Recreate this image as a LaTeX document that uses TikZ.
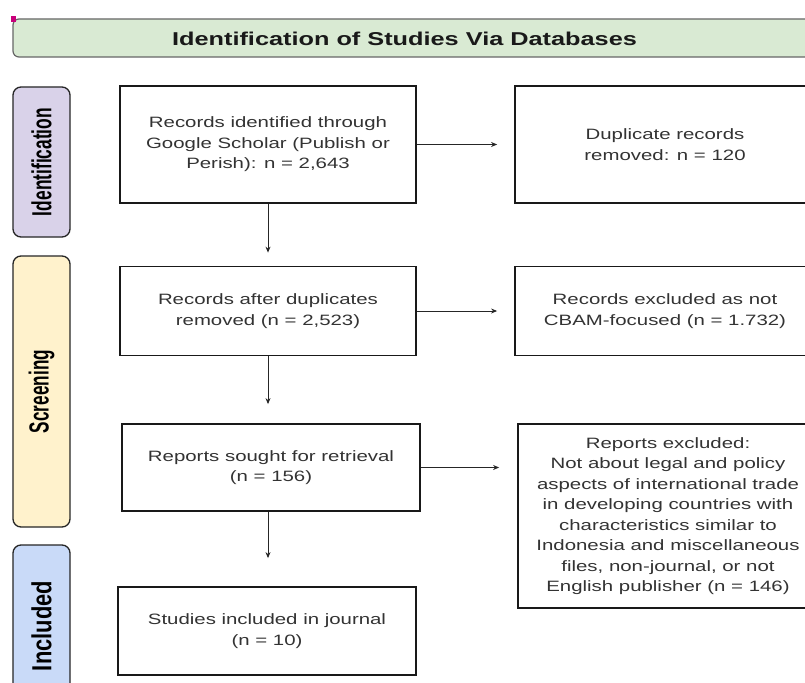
\documentclass[tikz,border=0pt]{standalone}
\usepackage{fontspec}
\setmainfont{Liberation Sans}[FakeStretch=1.36]
\newfontfamily\phasefont{Liberation Sans}
\usetikzlibrary{arrows.meta}

\definecolor{vertclair}{HTML}{D9EAD3}
\definecolor{lavande}{HTML}{D9D2E9}
\definecolor{creme}{HTML}{FFF2CC}
\definecolor{bleuclair}{HTML}{C9DAF8}
\definecolor{rose}{HTML}{C8007A}

\begin{document}
\begin{tikzpicture}[x=1pt, y=-1pt,
    boite/.style={draw=black!90, line width=1.8pt, fill=white, text=black!80, align=center,
                  font=\fontsize{15}{20.5}\selectfont, inner sep=0pt},
    phase/.style={draw=black!85, line width=1.3pt, rounded corners=8pt, rotate=90,
                  minimum height=57pt, font=\phasefont\bfseries, inner sep=0pt},
    entete/.style={draw=black!60, line width=1.2pt, fill=vertclair, rounded corners=6pt,
                   minimum width=817pt, minimum height=38pt},
    fleche/.style={-{Stealth[length=6pt, width=5pt]}, line width=0.9pt, black!85}
]
    \path[use as bounding box, clip] (0,0) rectangle (805,682);
    \fill[white] (0,0) rectangle (805,682);

    % bandeau du haut
    \node[entete] (titre) at (421.5,38) {};
    \node[font=\bfseries\fontsize{18.6}{20}\selectfont, text=black!90] (titre-txt) at (404.5,39) {Identification of Studies Via Databases};
    \fill[rose] (10.5,16.5) rectangle (16,22);

    % phases
    \node[phase, fill=lavande, minimum width=150pt] (p-ident) at (41.5,162) {\resizebox{108pt}{20pt}{Identification}};
    \node[phase, fill=creme, minimum width=271pt] (p-screen) at (41.5,391.5) {\resizebox{83pt}{20pt}{Screening}};
    \node[phase, fill=bleuclair, minimum width=162pt] (p-incl) at (41.5,626) {\resizebox{90pt}{20pt}{Included}};

    % boites
    \node[boite, minimum width=296pt, minimum height=117pt] (ident) at (268,144.5)
        {Records identified through\\Google Scholar (Publish or\\Perish): n = 2,643};
    \node[boite, minimum width=300pt, minimum height=117pt] (doublons) at (665,144.5)
        {Duplicate records\\removed: n = 120};
    \node[boite, minimum width=296pt, minimum height=89pt] (apres) at (268,311)
        {Records after duplicates\\removed (n = 2,523)};
    \node[boite, minimum width=300pt, minimum height=89pt] (exclus) at (665,311)
        {Records excluded as not\\CBAM-focused (n = 1.732)};
    \node[boite, minimum width=298pt, minimum height=87pt] (recherche) at (271,467.5)
        {Reports sought for retrieval\\(n = 156)};
    \node[boite, minimum width=300pt, minimum height=184pt] (rapports) at (668,516)
        {Reports excluded:\\Not about legal and policy\\aspects of international trade\\in developing countries with\\characteristics similar to\\Indonesia and miscellaneous\\files, non-journal, or not\\English publisher (n = 146)};
    \node[boite, minimum width=298pt, minimum height=88pt] (inclus) at (267,631)
        {Studies included in journal\\(n = 10)};

    % fleches
    \draw[fleche, shorten >=17pt] (ident) -- (doublons);
    \draw[fleche, shorten >=17pt] (apres) -- (exclus);
    \draw[fleche, shorten >=18pt] (recherche.east) -- (recherche.east -| rapports.west);
    \draw[fleche, shorten >=13pt] (ident) -- (apres);
    \draw[fleche, shorten >=19pt] (apres.south) -- (apres.south |- recherche.north);
    \draw[fleche, shorten >=28pt] (recherche.south -| apres.south) -- (apres.south |- inclus.north);
\end{tikzpicture}
\end{document}
